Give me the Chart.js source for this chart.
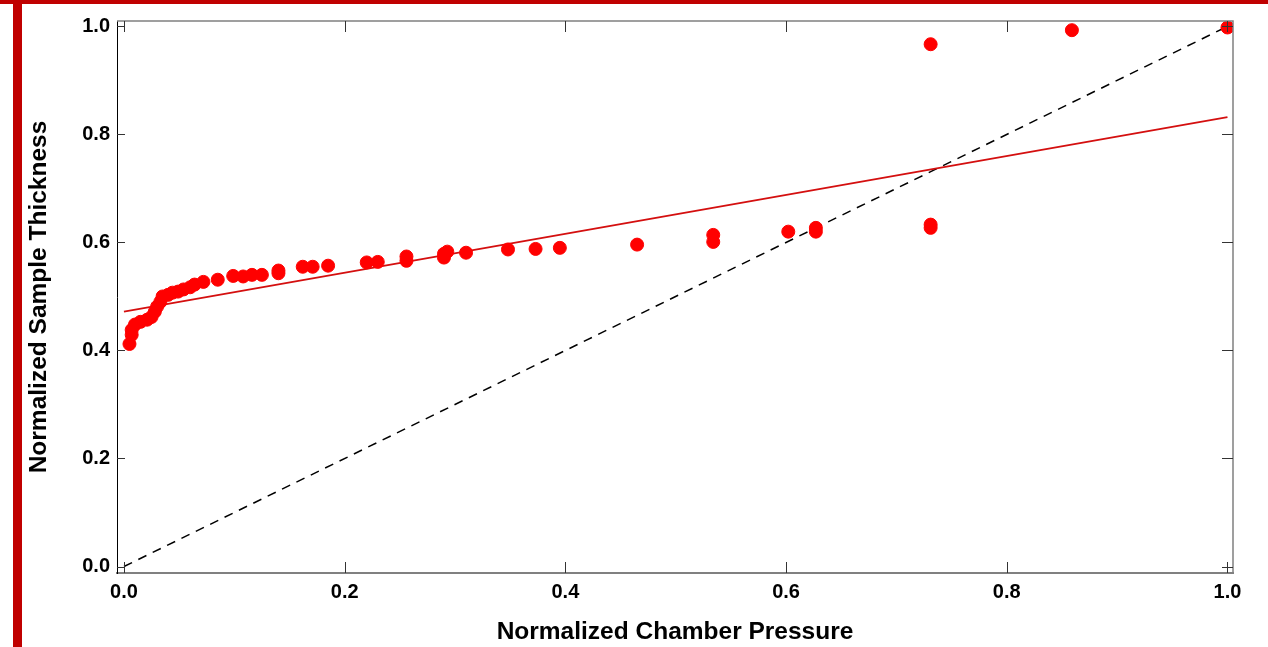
<!DOCTYPE html>
<html>
<head>
<meta charset="utf-8">
<script src="https://cdn.jsdelivr.net/npm/chart.js@4"></script>
<style>
  html, body { margin: 0; padding: 0; background: #fff; }
  #wrap { position: relative; width: 1268px; height: 647px; overflow: hidden; }
  #plot { position: absolute; left: 0; top: 0; }
  .bar { position: absolute; background: #c00000; pointer-events: none; }
</style>
</head>
<body>
<div id="wrap">
  <canvas id="plot" width="1268" height="647"></canvas>
  <div class="bar" style="left:0;top:0;width:1268px;height:4px"></div>
  <div class="bar" style="left:13px;top:0;width:9px;height:647px"></div>
</div>
<script>
// measured samples
const pressure = [0.005, 0.007, 0.007, 0.010, 0.015, 0.021, 0.025, 0.028, 0.030, 0.033,
  0.035, 0.040, 0.044, 0.049, 0.054, 0.060, 0.064, 0.072, 0.085, 0.099,
  0.108, 0.116, 0.125, 0.140, 0.140, 0.162, 0.171, 0.185, 0.220, 0.230,
  0.256, 0.256, 0.290, 0.293, 0.290, 0.310, 0.348, 0.373, 0.395, 0.465,
  0.534, 0.534, 0.602, 0.627, 0.627, 0.731, 0.731, 0.731, 0.859, 1.0];
const thickness = [0.412, 0.429, 0.438, 0.448, 0.453, 0.457, 0.462, 0.472, 0.481, 0.490,
  0.500, 0.503, 0.507, 0.509, 0.513, 0.517, 0.522, 0.527, 0.531, 0.538,
  0.537, 0.540, 0.540, 0.548, 0.543, 0.555, 0.555, 0.557, 0.563, 0.564,
  0.574, 0.566, 0.579, 0.583, 0.572, 0.581, 0.587, 0.588, 0.590, 0.596,
  0.614, 0.601, 0.620, 0.627, 0.620, 0.633, 0.627, 0.967, 0.993, 0.998];

// linear fit and the 1:1 reference line
const fitX = [0, 1];
const fitY = [0.472, 0.832];
const unityX = [0, 1];
const unityY = [0, 1];

const xTicks = [0, 0.2, 0.4, 0.6, 0.8, 1.0];
const yTicks = [0, 0.2, 0.4, 0.6, 0.8, 1.0];

const toPoints = (xs, ys) => xs.map((x, i) => ({ x: x, y: ys[i] }));

const tickFont = { family: 'Liberation Sans, Arial, sans-serif', size: 20, weight: 'bold' };
const titleFont = { family: 'Liberation Sans, Arial, sans-serif', size: 24.5, weight: 'bold' };

// inward tick marks on all four sides plus the top/right frame
const frameTicks = {
  id: 'frameTicks',
  afterDraw(chart) {
    const { ctx, chartArea: a, scales } = chart;
    ctx.save();
    ctx.strokeStyle = '#808080';
    ctx.lineWidth = 1.5;
    ctx.beginPath();
    ctx.moveTo(a.left, a.top);
    ctx.lineTo(a.right, a.top);
    ctx.lineTo(a.right, a.bottom);
    ctx.stroke();

    ctx.strokeStyle = '#333';
    ctx.lineWidth = 1;
    ctx.beginPath();
    xTicks.forEach(v => {
      const px = Math.round(scales.x.getPixelForValue(v)) + 0.5;
      ctx.moveTo(px, a.bottom);
      ctx.lineTo(px, a.bottom - 11);
      ctx.moveTo(px, a.top);
      ctx.lineTo(px, a.top + 11);
    });
    yTicks.forEach(v => {
      const py = Math.round(scales.y.getPixelForValue(v)) + 0.5;
      ctx.moveTo(a.left, py);
      ctx.lineTo(a.left + 8, py);
      ctx.moveTo(a.right, py);
      ctx.lineTo(a.right - 11, py);
    });
    ctx.stroke();
    ctx.restore();
  }
};

new Chart(document.getElementById('plot').getContext('2d'), {
  type: 'scatter',
  data: {
    datasets: [
      {
        label: 'Samples',
        data: toPoints(pressure, thickness),
        backgroundColor: '#ff0000',
        borderColor: '#ff0000',
        pointRadius: 6.5,
        pointHoverRadius: 6.5,
        order: 0
      },
      {
        label: 'Linear fit',
        data: toPoints(fitX, fitY),
        showLine: true,
        borderColor: '#d40f0f',
        borderWidth: 1.8,
        pointRadius: 0,
        order: 1
      },
      {
        label: '1:1',
        data: toPoints(unityX, unityY),
        showLine: true,
        borderColor: '#000',
        borderWidth: 1.5,
        borderDash: [9, 7],
        pointRadius: 0,
        order: 2
      }
    ]
  },
  options: {
    responsive: false,
    animation: false,
    layout: { padding: { top: 21, right: 35, left: 0, bottom: 0 } },
    plugins: {
      legend: { display: false },
      tooltip: { enabled: false }
    },
    scales: {
      x: {
        type: 'linear',
        min: -0.0063,
        max: 1.005,
        afterBuildTicks: axis => { axis.ticks = xTicks.map(v => ({ value: v })); },
        afterFit: scale => { scale.height = 74; },
        grid: { display: false, drawTicks: false },
        border: { display: true, color: '#808080', width: 2 },
        ticks: {
          padding: 7,
          color: '#000',
          font: tickFont,
          maxRotation: 0,
          callback: v => v.toFixed(1)
        },
        title: {
          display: true,
          text: 'Normalized Chamber Pressure',
          color: '#000',
          font: titleFont,
          padding: { top: 0, bottom: 0 }
        }
      },
      y: {
        type: 'linear',
        min: -0.012,
        max: 1.01,
        afterBuildTicks: axis => { axis.ticks = yTicks.map(v => ({ value: v })); },
        afterFit: scale => { scale.width = 117; },
        grid: { display: false, drawTicks: false },
        border: { display: true, color: '#000', width: 1 },
        ticks: {
          padding: 7,
          color: '#000',
          font: tickFont,
          callback: v => v.toFixed(1)
        },
        title: {
          display: true,
          text: 'Normalized Sample Thickness',
          color: '#000',
          font: titleFont,
          padding: { top: 25, bottom: 0 }
        }
      }
    }
  },
  plugins: [frameTicks]
});
</script>
</body>
</html>
